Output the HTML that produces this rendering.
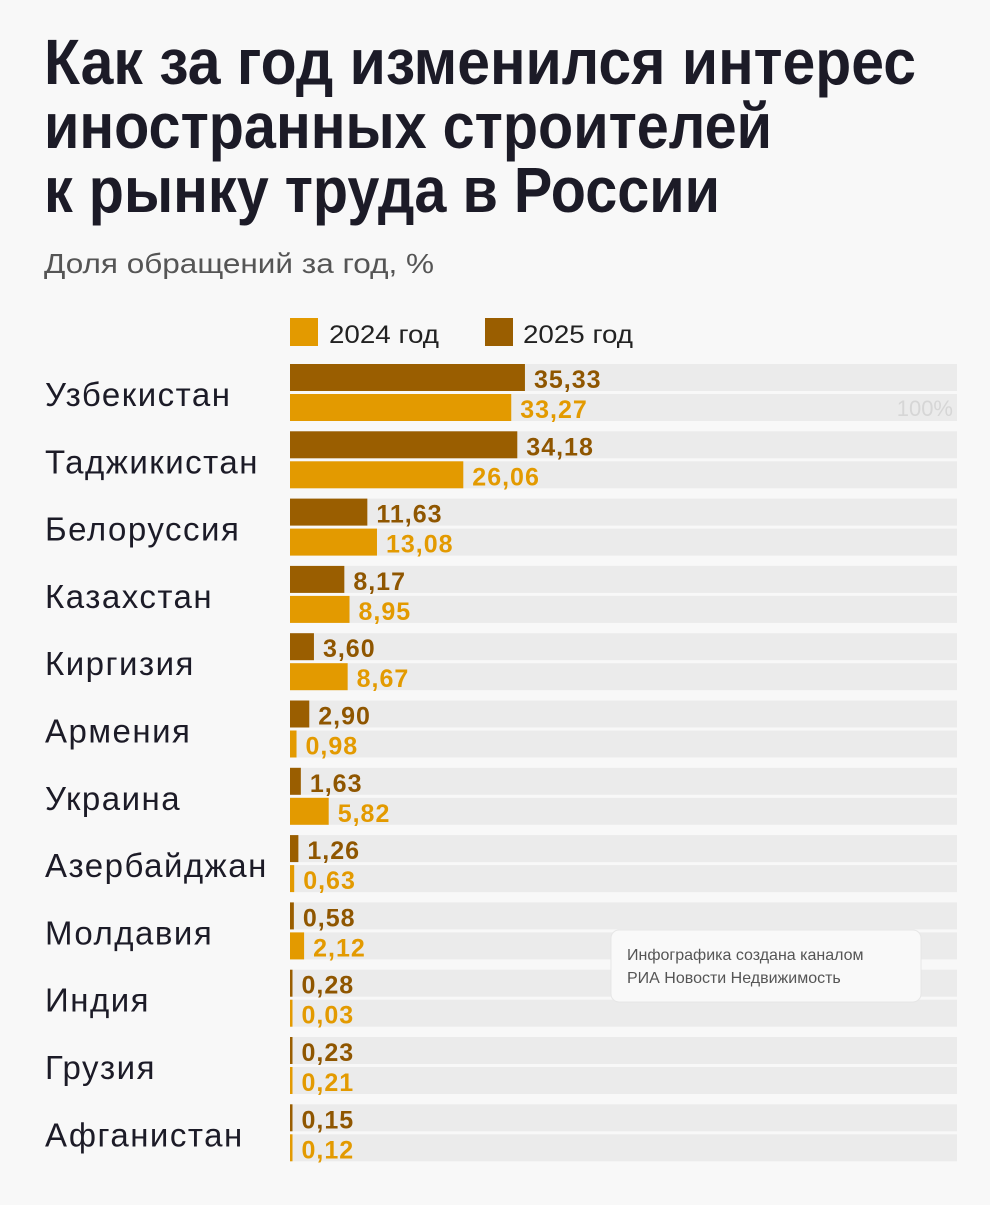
<!DOCTYPE html>
<html><head><meta charset="utf-8"><style>
html,body{margin:0;padding:0;background:#f8f8f8;}
body{width:990px;height:1200px;overflow:hidden;font-family:"Liberation Sans",sans-serif;}
</style></head><body>
<svg id="chart" width="990" height="1200" xmlns="http://www.w3.org/2000/svg">
<rect x="0" y="0" width="990" height="1200" fill="#f8f8f8"/>
<g font-family="Liberation Sans, sans-serif" font-weight="bold" font-size="64" fill="#1c1b27">
<text x="44" y="84" textLength="872" lengthAdjust="spacingAndGlyphs">Как за год изменился интерес</text>
<text x="44" y="148" textLength="728" lengthAdjust="spacingAndGlyphs">иностранных строителей</text>
<text x="44" y="212" textLength="676" lengthAdjust="spacingAndGlyphs">к рынку труда в России</text>
</g>
<text x="44" y="273" font-size="28" fill="#555" textLength="390" lengthAdjust="spacingAndGlyphs">Доля обращений за год, %</text>
<g>
<rect x="290" y="318" width="28" height="28" fill="#e39a00"/>
<text x="329" y="343" font-size="25" fill="#222" textLength="110" lengthAdjust="spacingAndGlyphs">2024 год</text>
<rect x="485" y="318" width="28" height="28" fill="#9a5e00"/>
<text x="523" y="343" font-size="25" fill="#222" textLength="110" lengthAdjust="spacingAndGlyphs">2025 год</text>
</g>
<g id="bars"></g>
<text x="953" y="416" text-anchor="end" font-size="22" fill="#d6d6d6">100%</text>
<g>
<rect x="611" y="930" width="310" height="72" rx="8" fill="#f9f9f9" stroke="#e6e6e6"/>
<text x="627" y="960" font-size="16" fill="#555">Инфографика создана каналом</text>
<text x="627" y="983" font-size="16" fill="#555">РИА Новости Недвижимость</text>
</g>
</svg>
<script>
const countries = ["Узбекистан","Таджикистан","Белоруссия","Казахстан","Киргизия","Армения","Украина","Азербайджан","Молдавия","Индия","Грузия","Афганистан"];
const values2025 = [35.33,34.18,11.63,8.17,3.60,2.90,1.63,1.26,0.58,0.28,0.23,0.15];
const values2024 = [33.27,26.06,13.08,8.95,8.67,0.98,5.82,0.63,2.12,0.03,0.21,0.12];
const NS="http://www.w3.org/2000/svg";
const x0=290, pxPer=6.65, rowTop=364, pitch=67.3, barH=27;
function xw(v){return Math.max(2.5, v*pxPer);}
function fmt(v){return v.toFixed(2).replace('.',',');}
const g=document.getElementById('bars');
function mk(tag,attrs){const e=document.createElementNS(NS,tag);for(const k in attrs)e.setAttribute(k,attrs[k]);return e;}
countries.forEach((c,i)=>{
  const y=rowTop+i*pitch;
  const lab=mk('text',{x:45,y:y+42,'font-size':33,'letter-spacing':1.5,fill:'#1c1b27'});
  
  
  lab.textContent=c;g.appendChild(lab);
  [[values2025[i],'#9a5e00','#8f5600',y],[values2024[i],'#e39a00','#e39a00',y+30]].forEach(([v,col,tc,yy],k)=>{
    const tr=mk('rect',{x:x0,y:yy,width:667,height:barH,fill:'#ebebeb'});
    
    
    g.appendChild(tr);
    const b=mk('rect',{x:x0,y:yy,width:xw(v),height:barH,fill:col});
    
    
    g.appendChild(b);
    const t=mk('text',{x:x0+xw(v)+9,y:yy+24,'font-size':25,'letter-spacing':1,'font-weight':'bold',fill:tc});
    
    
    t.textContent=fmt(v);g.appendChild(t);
  });
});
</script>
</body></html>
